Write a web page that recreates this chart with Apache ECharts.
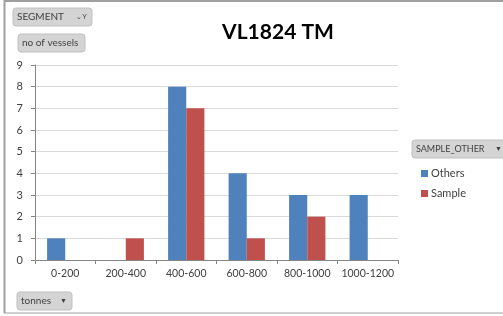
<!DOCTYPE html>
<html>
<head>
<meta charset="utf-8">
<script src="https://cdn.jsdelivr.net/npm/echarts@6/dist/echarts.min.js"></script>
<style>
  html, body { margin: 0; padding: 0; background: #fff; }
  #chart { width: 503px; height: 316px; }
</style>
</head>
<body>
<div id="chart"></div>
<script>
var categories = ['0-200', '200-400', '400-600', '600-800', '800-1000', '1000-1200'];
var others = [1, 0, 8, 4, 3, 3];
var sample = [0, 1, 7, 1, 2, 0];

var font = 'Lato, "Open Sans", sans-serif';

// grey excel pivot buttons
function pivotButton(x, y, w, label, arrow, size) {
  var kids = [
    { type: 'rect', shape: { x: 0, y: 0, width: w, height: 18, r: 3 },
      style: { fill: '#d4d4d4', stroke: '#c0c0c0', lineWidth: 1 } },
    { type: 'text', style: { x: 4, y: 9, text: label, fill: '#404040',
      font: (size || 10) + 'px ' + font, verticalAlign: 'middle' } }
  ];
  if (arrow) {
    kids.push({ type: 'text', style: { x: w - 5, y: 9, text: arrow, fill: '#404040',
      font: '7px sans-serif', align: 'right', verticalAlign: 'middle' } });
  }
  return { type: 'group', x: x, y: y, children: kids };
}

var chart = echarts.init(document.getElementById('chart'));
chart.setOption({
  backgroundColor: '#fff',
  animation: false,
  title: {
    text: 'VL1824 TM',
    left: 273,
    textAlign: 'center',
    top: 17,
    textStyle: { fontFamily: font, fontSize: 21, fontWeight: 'bold', color: '#000' }
  },
  legend: {
    orient: 'vertical',
    left: 416,
    top: 163,
    itemWidth: 7,
    itemHeight: 7,
    itemGap: 9,
    icon: 'rect',
    textStyle: { fontFamily: font, fontSize: 11, color: '#404040', padding: [0, 0, 0, -2] },
    data: ['Others', 'Sample']
  },
  grid: { left: 35, right: 105, top: 65, bottom: 56, containLabel: false },
  xAxis: {
    type: 'category',
    data: categories,
    axisLine: { lineStyle: { color: '#868686' } },
    axisTick: { show: true, alignWithLabel: false, length: 4, lineStyle: { color: '#868686' } },
    axisLabel: { interval: 0, fontFamily: font, fontSize: 10.5, color: '#404040', margin: 8 }
  },
  yAxis: {
    type: 'value',
    min: 0,
    max: 9,
    interval: 1,
    axisLine: { show: true, lineStyle: { color: '#868686' } },
    axisTick: { show: true, length: 4, lineStyle: { color: '#868686' } },
    axisLabel: { fontFamily: font, fontSize: 11, color: '#404040', margin: 12 },
    splitLine: { lineStyle: { color: '#d9d9d9' } }
  },
  series: [
    { name: 'Others', type: 'bar', data: others, itemStyle: { color: '#4f81bd' },
      barGap: '0%', barCategoryGap: '40%' },
    { name: 'Sample', type: 'bar', data: sample, itemStyle: { color: '#c0504d' } }
  ],
  graphic: [
    { type: 'line', shape: { x1: 4.5, y1: 0, x2: 4.5, y2: 313 },
      style: { stroke: '#a0a0a0', lineWidth: 2 } },
    { type: 'line', shape: { x1: 4, y1: 1, x2: 503, y2: 1 },
      style: { stroke: '#a0a0a0', lineWidth: 2 } },
    { type: 'line', shape: { x1: 4, y1: 313, x2: 503, y2: 313 },
      style: { stroke: '#a0a0a0', lineWidth: 1 } },
    pivotButton(13, 8, 79, 'SEGMENT', '⌄Y'),
    pivotButton(18, 34, 67, 'no of vessels', ''),
    pivotButton(17, 292, 55, 'tonnes', '▼'),
    pivotButton(412, 140, 95, 'SAMPLE_OTHER', '▼', 9)
  ]
});
</script>
</body>
</html>
